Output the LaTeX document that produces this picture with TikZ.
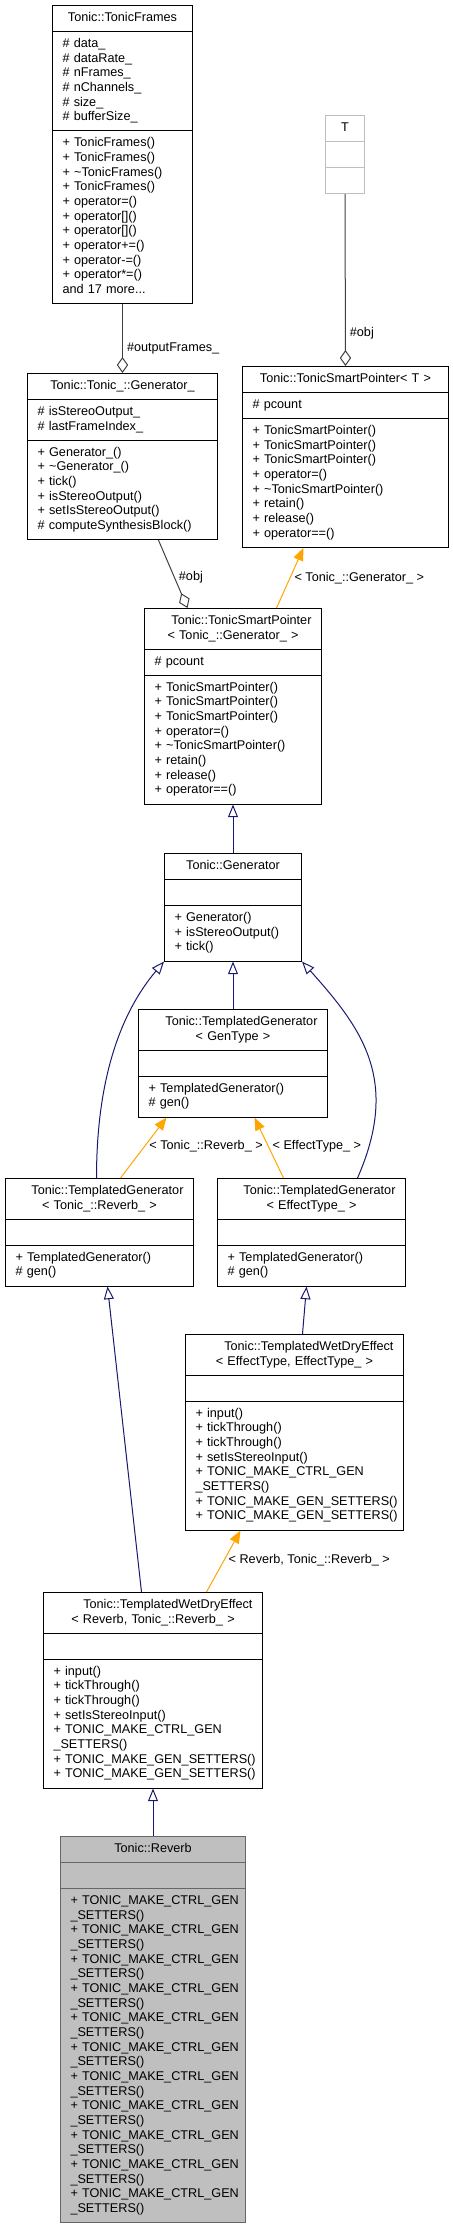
\documentclass[tikz,border=0pt]{standalone}
\usepackage{fontspec}
\setmainfont{Liberation Sans}
\usetikzlibrary{arrows.meta,calc,shapes.multipart}
\definecolor{inhblue}{HTML}{191970}
\definecolor{tplorange}{HTML}{FFA500}
\definecolor{usegray}{HTML}{404040}
\definecolor{tgray}{HTML}{BFBFBF}
\definecolor{mainborder}{HTML}{666666}
\newcommand{\ctitle}[1]{\hspace*{\fill}#1\hspace*{\fill}}
\newcommand{\ctrlsetters}{+~TONIC\_MAKE\_CTRL\_GEN\\\_SETTERS()}
\newcommand{\gensetters}{+~TONIC\_MAKE\_GEN\_SETTERS()}

\begin{document}
\begin{tikzpicture}[x=0.75pt, y=-0.75pt,
  cls/.style={rectangle split, rectangle split parts=3, draw=black,
              line width=0.75pt, anchor=north west, align=left,
              font=\fontsize{9.5}{11}\selectfont, inner xsep=7.5pt, inner ysep=3.9pt},
  inh/.style={-{Triangle[open, length=9.5pt, width=7.5pt]}, line width=0.75pt, color=inhblue},
  tmpl/.style={-{Triangle[length=9.5pt, width=7.5pt]}, line width=0.75pt, color=tplorange},
  usage/.style={-{Diamond[open, length=12pt, width=8.5pt]}, line width=0.75pt, color=usegray},
  lbl/.style={font=\fontsize{9.5}{11}\selectfont, text=black, inner sep=3pt}
]
\useasboundingbox (0,0) rectangle (453,2225);

%% ===== top row =====
\node[cls, text width=90pt] (frames) at (52,5)
  {\strut\ctitle{Tonic::TonicFrames}\strut
   \nodepart{two}\strut\# data\_\\\# dataRate\_\\\# nFrames\_\\\# nChannels\_\\\# size\_\\\# bufferSize\_\strut
   \nodepart{three}\strut+ TonicFrames()\\+ TonicFrames()\\+ \textasciitilde TonicFrames()\\+ TonicFrames()\\+ operator=()\\+ operator[]()\\+ operator[]()\\+ operator+=()\\+ operator-=()\\+ operator*=()\\and 17 more...\strut};
\node[cls, draw=tgray, text width=14.25pt] (tparam) at (325,115)
  {\strut\ctitle{T}\strut \nodepart{two}\strut \nodepart{three}\strut};

\node[cls, text width=127.5pt] (genbase) at (27,373)
  {\strut\ctitle{Tonic::Tonic\_::Generator\_}\strut
   \nodepart{two}\strut\# isStereoOutput\_\\\# lastFrameIndex\_\strut
   \nodepart{three}\strut+ Generator\_()\\+ \textasciitilde Generator\_()\\+ tick()\\+ isStereoOutput()\\+ setIsStereoOutput()\\\# computeSynthesisBlock()\strut};
\node[cls, text width=139.5pt] (spT) at (242,366)
  {\strut\ctitle{Tonic::TonicSmartPointer< T >}\strut
   \nodepart{two}\strut\# pcount\strut
   \nodepart{three}\strut+ TonicSmartPointer()\\+ TonicSmartPointer()\\+ TonicSmartPointer()\\+ operator=()\\+ \textasciitilde TonicSmartPointer()\\+ retain()\\+ release()\\+ operator==()\strut};

%% ===== smart pointer and generator =====
\node[cls, text width=117.75pt] (spGen) at (144,608)
  {\strut\ctitle{Tonic::TonicSmartPointer}\\\ctitle{< Tonic\_::Generator\_ >}\strut
   \nodepart{two}\strut\# pcount\strut
   \nodepart{three}\strut+ TonicSmartPointer()\\+ TonicSmartPointer()\\+ TonicSmartPointer()\\+ operator=()\\+ \textasciitilde TonicSmartPointer()\\+ retain()\\+ release()\\+ operator==()\strut};
\node[cls, text width=87.75pt] (gen) at (164,853)
  {\strut\ctitle{Tonic::Generator}\strut
   \nodepart{two}\strut
   \nodepart{three}\strut+ Generator()\\+ isStereoOutput()\\+ tick()\strut};

%% ===== templated generators =====
\node[cls, text width=126.75pt] (tgGen) at (138,1009)
  {\strut\ctitle{Tonic::TemplatedGenerator}\\\ctitle{< GenType >}\strut
   \nodepart{two}\strut
   \nodepart{three}\strut+ TemplatedGenerator()\\\# gen()\strut};
\node[cls, text width=126pt] (tgRev) at (5,1178)
  {\strut\ctitle{Tonic::TemplatedGenerator}\\\ctitle{< Tonic\_::Reverb\_ >}\strut
   \nodepart{two}\strut
   \nodepart{three}\strut+ TemplatedGenerator()\\\# gen()\strut};
\node[cls, text width=126pt] (tgEff) at (217,1178)
  {\strut\ctitle{Tonic::TemplatedGenerator}\\\ctitle{< EffectType\_ >}\strut
   \nodepart{two}\strut
   \nodepart{three}\strut+ TemplatedGenerator()\\\# gen()\strut};

%% ===== wet/dry effects =====
\node[cls, text width=148.5pt] (wdEff) at (185,1334)
  {\strut\ctitle{Tonic::TemplatedWetDryEffect}\\\ctitle{< EffectType, EffectType\_ >}\strut
   \nodepart{two}\strut
   \nodepart{three}\strut+ input()\\+ tickThrough()\\+ tickThrough()\\+ setIsStereoInput()\\\ctrlsetters\\\gensetters\\\gensetters\strut};
\node[cls, text width=149.25pt] (wdRev) at (43,1592)
  {\strut\ctitle{Tonic::TemplatedWetDryEffect}\\\ctitle{< Reverb, Tonic\_::Reverb\_ >}\strut
   \nodepart{two}\strut
   \nodepart{three}\strut+ input()\\+ tickThrough()\\+ tickThrough()\\+ setIsStereoInput()\\\ctrlsetters\\\gensetters\\\gensetters\strut};

%% ===== the class itself =====
\node[cls, draw=mainborder, fill=tgray, text width=123.75pt] (reverb) at (60,1836)
  {\strut\ctitle{Tonic::Reverb}\strut
   \nodepart{two}\strut
   \nodepart{three}\strut\ctrlsetters\\\ctrlsetters\\\ctrlsetters\\\ctrlsetters\\\ctrlsetters\\\ctrlsetters\\\ctrlsetters\\\ctrlsetters\\\ctrlsetters\\\ctrlsetters\\\ctrlsetters\strut};

%% usage
\draw[usage] (frames.south) -- node[lbl, right, pos=0.65] {\#outputFrames\_} (genbase.north);
\draw[usage] (tparam.south) -- node[lbl, right, pos=0.81] {\#obj} (spT.north);
\draw[usage] ($(genbase.south)+(36,0)$) -- node[lbl, right, pos=0.55] {\#obj} ($(spGen.north)+(-45.5,0)$);

%% template instances
\draw[tmpl] ($(spGen.north)+(43.5,0)$) -- node[lbl, right, pos=0.5] {< Tonic\_::Generator\_ >} ($(spT.south)+(-42,0)$);
\draw[tmpl] ($(tgRev.north)+(21,0)$) -- node[lbl, right, pos=0.53] {< Tonic\_::Reverb\_ >} ($(tgGen.south)+(-66.5,0)$);
\draw[tmpl] ($(tgEff.north)+(-28,0)$) -- node[lbl, right, pos=0.53] {< EffectType\_ >} ($(tgGen.south)+(21.5,0)$);
\draw[tmpl] ($(wdRev.north)+(53.5,0)$) -- node[lbl, right, pos=0.52] {< Reverb, Tonic\_::Reverb\_ >} ($(wdEff.south)+(-54,0)$);

%% inheritance
\draw[inh] (gen.north) -- (spGen.south);
\draw[inh] (tgGen.north) -- (gen.south);
\draw[inh] ($(tgRev.north)+(-3,0)$) .. controls +(0,-98) and +(-44,52) .. (gen.south west);
\draw[inh] ($(tgEff.north)+(46,0)$) .. controls +(43,-98) and +(60,67) .. (gen.south east);
\draw[inh] ($(wdRev.north)+(-11.5,0)$) -- ($(tgRev.south)+(8,0)$);
\draw[inh] ($(wdEff.north)+(8,0)$) -- ($(tgEff.south)+(-5,0)$);
\draw[inh] (reverb.north) -- (wdRev.south);

\end{tikzpicture}
\end{document}
